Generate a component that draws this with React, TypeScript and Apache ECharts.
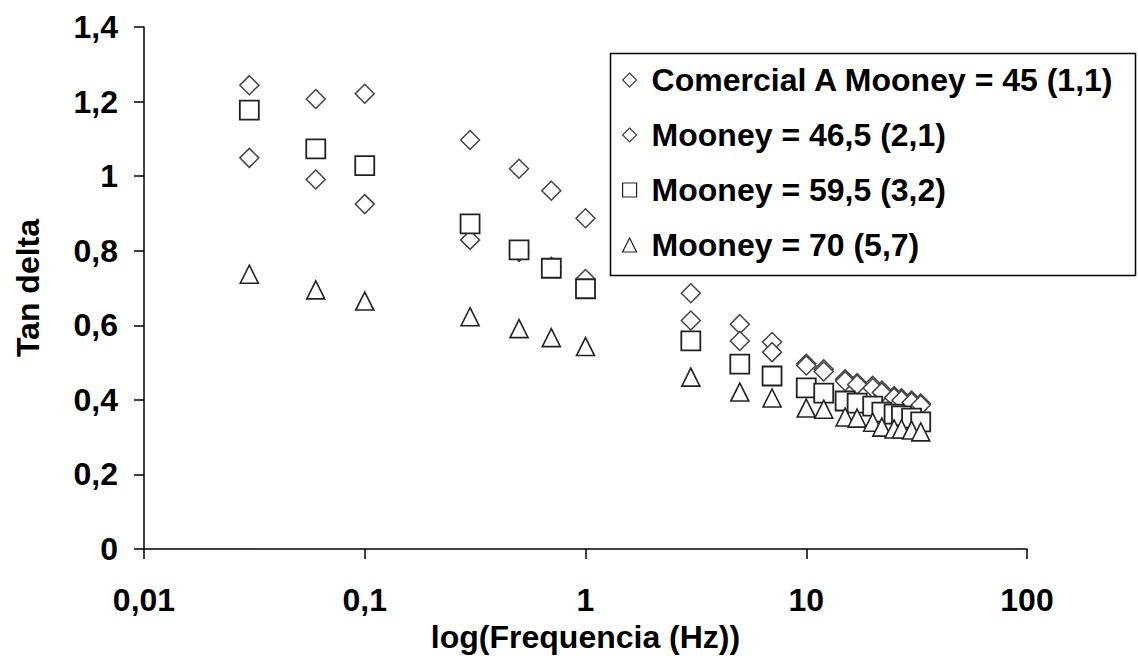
import React, { useEffect, useRef } from "react";
import * as echarts from "echarts";

const frequencies = [0.03, 0.06, 0.1, 0.3, 0.5, 0.7, 1, 3, 5, 7, 10, 12, 15, 17, 20, 22, 25, 27, 30, 33];

const seriesNames = [
  "Comercial A Mooney = 45 (1,1)",
  "Mooney = 46,5 (2,1)",
  "Mooney = 59,5 (3,2)",
  "Mooney = 70 (5,7)",
];

const comercialA = [1.244, 1.207, 1.221, 1.097, 1.02, 0.961, 0.887, 0.686, 0.603, 0.555, 0.497, 0.482, 0.455, 0.445, 0.438, 0.425, 0.41, 0.404, 0.398, 0.39];
const mooney465 = [1.049, 0.991, 0.925, 0.829, 0.797, 0.757, 0.724, 0.613, 0.558, 0.528, 0.492, 0.476, 0.45, 0.441, 0.432, 0.42, 0.406, 0.399, 0.393, 0.386];
const mooney595 = [1.177, 1.073, 1.028, 0.872, 0.802, 0.753, 0.698, 0.558, 0.496, 0.464, 0.432, 0.418, 0.397, 0.391, 0.383, 0.367, 0.362, 0.357, 0.351, 0.341];
const mooney70 = [0.737, 0.695, 0.665, 0.623, 0.591, 0.567, 0.543, 0.461, 0.421, 0.405, 0.378, 0.375, 0.354, 0.351, 0.34, 0.327, 0.322, 0.322, 0.319, 0.314];

const yTicks = [0, 0.2, 0.4, 0.6, 0.8, 1, 1.2, 1.4];
const xTicks = [0.01, 0.1, 1, 10, 100];

const FONT = "'Liberation Sans', Arial, sans-serif";

function fmt(v: number): string {
  const r = Number(v.toPrecision(6));
  return String(r).replace(".", ",");
}

export default function App() {
  const ref = useRef<HTMLDivElement>(null);
  useEffect(() => {
    if (!ref.current) return;
    const chart = echarts.init(ref.current, null, { renderer: "svg" });
    const pairs = (vals: number[]) => frequencies.map((f, i) => [f, vals[i]]);
    const mk = (name: string, vals: number[], symbol: string, size: number, color: string, bw: number) => ({
      name,
      type: "scatter",
      data: pairs(vals),
      symbol,
      symbolSize: size,
      itemStyle: { color: "#ffffff", borderColor: color, borderWidth: bw, opacity: 1 },
      emphasis: { disabled: true },
    });
    chart.setOption({
      animation: false,
      backgroundColor: "#ffffff",
      grid: { left: 144, right: 111, top: 27, bottom: 113, outerBoundsMode: "none", containLabel: false },
      xAxis: {
        type: "log",
        logBase: 10,
        min: xTicks[0],
        max: xTicks[xTicks.length - 1],
        name: "log(Frequencia (Hz))",
        nameLocation: "middle",
        nameGap: 64,
        nameTextStyle: { fontSize: 32, fontWeight: "bold", fontFamily: FONT, color: "#000" },
        axisLine: { show: true, onZero: false, lineStyle: { color: "#000", width: 1.5 } },
        axisTick: { show: true, length: 10, inside: false, lineStyle: { color: "#000", width: 1.5 } },
        minorTick: { show: false },
        splitLine: { show: false },
        axisLabel: {
          margin: 35,
          fontSize: 32,
          fontWeight: "bold",
          fontFamily: FONT,
          color: "#000",
          formatter: (v: number) => fmt(v),
        },
      },
      yAxis: {
        type: "value",
        min: yTicks[0],
        max: yTicks[yTicks.length - 1],
        interval: 0.2,
        name: "Tan delta",
        nameLocation: "middle",
        nameGap: 100,
        nameTextStyle: { fontSize: 32, fontWeight: "bold", fontFamily: FONT, color: "#000" },
        axisLine: { show: true, lineStyle: { color: "#000", width: 1.5 } },
        axisTick: { show: true, length: 10, inside: false, lineStyle: { color: "#000", width: 1.5 } },
        splitLine: { show: false },
        axisLabel: {
          margin: 26,
          fontSize: 32,
          fontWeight: "bold",
          fontFamily: FONT,
          color: "#000",
          formatter: (v: number) => fmt(Math.round(v * 10) / 10),
        },
      },
      legend: {
        orient: "vertical",
        left: 622,
        top: 64,
        itemWidth: 14,
        itemHeight: 14,
        itemGap: 23,
        padding: 0,
        selectedMode: false,
        data: seriesNames,
        itemStyle: { borderWidth: 1.2 },
        textStyle: { fontSize: 32, fontWeight: "bold", fontFamily: FONT, color: "#000", padding: [0, 0, 0, 10] },
      },
      graphic: [
        {
          type: "rect",
          left: 608,
          top: 51,
          shape: { width: 525, height: 222 },
          style: { fill: "none", stroke: "#000", lineWidth: 1.5 },
          z: 10,
        },
      ],
      series: [
        mk(seriesNames[0], comercialA, "diamond", 19, "#444", 1.5),
        mk(seriesNames[1], mooney465, "diamond", 19, "#444", 1.5),
        mk(seriesNames[2], mooney595, "rect", 19, "#222", 1.8),
        mk(seriesNames[3], mooney70, "triangle", 18, "#222", 1.6),
      ],
    });
    return () => chart.dispose();
  }, []);
  return (
    <div
      ref={ref}
      style={{ position: "fixed", left: 0, top: 0, width: 1138, height: 662, background: "#fff" }}
    />
  );
}
